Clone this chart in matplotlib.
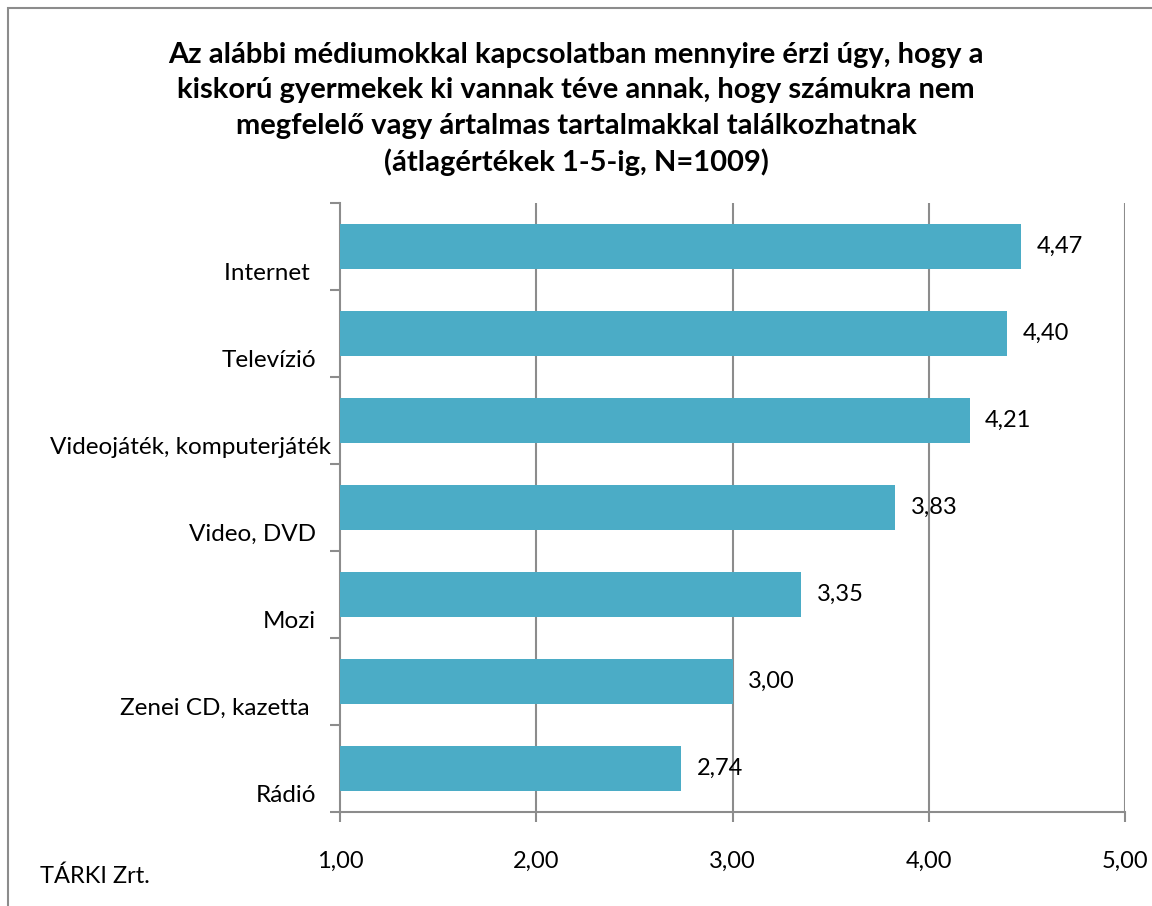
import matplotlib.pyplot as plt
from matplotlib.patches import Rectangle
from matplotlib.ticker import FixedLocator
import matplotlib.transforms as mtransforms

plt.rcParams['font.family'] = ['Lato', 'DejaVu Sans']

# data
categories = ['Internet ', 'Televízió', 'Videojáték, komputerjáték', 'Video, DVD',
              'Mozi', 'Zenei CD, kazetta ', 'Rádió']
values = [4.47, 4.40, 4.21, 3.83, 3.35, 3.00, 2.74]
value_labels = ['4,47', '4,40', '4,21', '3,83', '3,35', '3,00', '2,74']
xticks = [1, 2, 3, 4, 5]
xtick_labels = ['1,00', '2,00', '3,00', '4,00', '5,00']

title = ('Az alábbi médiumokkal kapcsolatban mennyire érzi úgy, hogy a\n'
         'kiskorú gyermekek ki vannak téve annak, hogy számukra nem\n'
         'megfelelő vagy ártalmas tartalmakkal találkozhatnak\n'
         '(átlagértékek 1-5-ig, N=1009)')

bar_color = '#4BACC6'
grid_color = '#8C8C8C'

fig = plt.figure(figsize=(11.52, 9.06), dpi=100)
ax = fig.add_axes([340 / 1152, 1 - 812 / 906, 785 / 1152, 609 / 906])

ypos = list(range(len(categories)))
ax.barh(ypos, [v - 1 for v in values], left=1, height=0.52, color=bar_color, zorder=3)

ax.set_xlim(1, 5)
ax.set_ylim(len(categories) - 0.5, -0.5)

# gridlines
for x in xticks[1:]:
    ax.axvline(x, color=grid_color, lw=1.5, zorder=1)

for side in ['top', 'right']:
    ax.spines[side].set_visible(False)
for side in ['left', 'bottom']:
    ax.spines[side].set_color(grid_color)
    ax.spines[side].set_linewidth(1.5)

ax.set_xticks(xticks)
ax.set_xticklabels(xtick_labels, fontsize=17)
ax.tick_params(axis='x', direction='out', length=7, width=1.5, color=grid_color, pad=21)

# category boundary ticks on y axis
ax.set_yticks([])
ax.yaxis.set_minor_locator(FixedLocator([i - 0.5 for i in range(len(categories) + 1)]))
ax.tick_params(axis='y', which='minor', direction='out', length=7, width=1.5, color=grid_color)

# category labels (sit slightly below the bar centre, as in the original)
trans = mtransforms.blended_transform_factory(ax.transAxes, ax.transData)
offset = mtransforms.ScaledTranslation(0, -27 / 100, fig.dpi_scale_trans)
for y, name in zip(ypos, categories):
    # the long label overflows a little towards the axis in the original
    xr = -9 / 785 if len(name) > 20 else -24 / 785
    ax.text(xr, y, name, transform=trans + offset, ha='right', va='center', fontsize=17.5)

# value labels
for y, v, lab in zip(ypos, values, value_labels):
    ax.annotate(lab, (v, y), xytext=(11, 0), textcoords='offset points',
                ha='left', va='center', fontsize=17)

fig.text(0.5, 1 - 109 / 906, title, ha='center', va='center', fontsize=21,
         fontweight='bold', linespacing=1.45)
fig.text(40 / 1152, 1 - 876 / 906, 'TÁRKI Zrt.', ha='left', va='center', fontsize=17)

# outer frame
fig.patches.append(Rectangle((8 / 1152, -0.1), 1.2, 1.091, transform=fig.transFigure,
                             fill=False, edgecolor='#8C8C8C', lw=1.5))

fig.savefig('out.png', dpi=100)
